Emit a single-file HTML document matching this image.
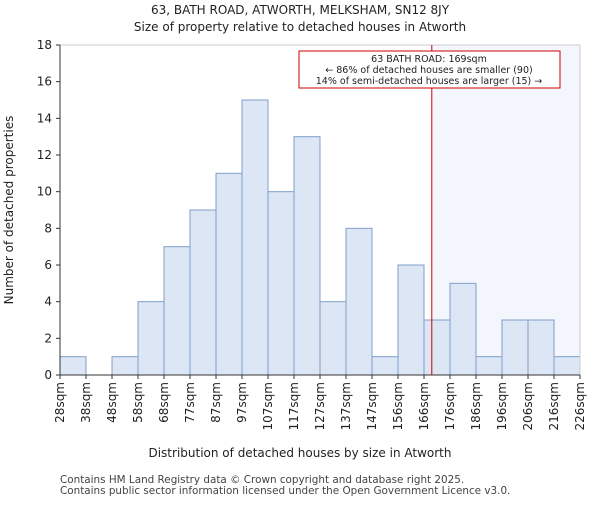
<!DOCTYPE html>
<html><head><meta charset="utf-8"><style>body{margin:0;background:#fff}svg{font-family:"DejaVu Sans","Liberation Sans",sans-serif}</style></head>
<body>
<svg id="c" width="600" height="500">
<text x="300" y="14" text-anchor="middle" font-size="12" fill="#222">63, BATH ROAD, ATWORTH, MELKSHAM, SN12 8JY</text>
<text x="300" y="31" text-anchor="middle" font-size="12" fill="#222">Size of property relative to detached houses in Atworth</text>
<g id="plot"></g>
<text x="300" y="457" text-anchor="middle" font-size="12" fill="#222">Distribution of detached houses by size in Atworth</text>
<text transform="translate(13,210) rotate(-90)" text-anchor="middle" font-size="12" fill="#222">Number of detached properties</text>
<text x="60" y="483" font-size="10.4" fill="#444">Contains HM Land Registry data © Crown copyright and database right 2025.</text>
<text x="60" y="494" font-size="10.4" fill="#444">Contains public sector information licensed under the Open Government Licence v3.0.</text>
</svg>
<script>
const tickLabels=["28sqm","38sqm","48sqm","58sqm","68sqm","77sqm","87sqm","97sqm","107sqm","117sqm","127sqm","137sqm","147sqm","156sqm","166sqm","176sqm","186sqm","196sqm","206sqm","216sqm","226sqm"];
const counts=[1,0,1,4,7,9,11,15,10,13,4,8,1,6,3,5,1,3,3,1];
const yTicks=[0,2,4,6,8,10,12,14,16,18];
const markerBin=14.3;
const X0=60,X1=580,Y0=375,Y1=45,YMAX=18;
const ns="http://www.w3.org/2000/svg";
const g=document.getElementById('plot');
const bw=(X1-X0)/counts.length;
const x=i=>X0+i*bw;
const y=v=>Y0-(v/YMAX)*(Y0-Y1);
function el(t,a){const e=document.createElementNS(ns,t);for(const k in a)e.setAttribute(k,a[k]);g.appendChild(e);return e;}
const mx=x(markerBin);
let s=el('rect',{x:mx,y:Y1,width:X1-mx,height:Y0-Y1,fill:"#f4f6fd"});


counts.forEach((v,i)=>{const r=el('rect',{x:x(i),y:y(v),width:bw,height:Y0-y(v),fill:"#dce6f4",stroke:"#7f9fcc","stroke-width":1});

});
let f=el('rect',{x:X0,y:Y1,width:X1-X0,height:Y0-Y1,fill:"none",stroke:"#ccc"});


el('line',{x1:X0,y1:Y0,x2:X1,y2:Y0,stroke:"#333"});
el('line',{x1:X0,y1:Y0,x2:X0,y2:Y1,stroke:"#333"});
yTicks.forEach(t=>{el('line',{x1:X0-4,x2:X0,y1:y(t),y2:y(t),stroke:"#333"});
const tx=el('text',{x:X0-8,y:y(t)+4,"text-anchor":"end","font-size":"12",fill:"#222"});tx.textContent=t;

});
tickLabels.forEach((l,i)=>{el('line',{x1:x(i),x2:x(i),y1:Y0,y2:Y0+4,stroke:"#333"});
const tx=el('text',{transform:`translate(${x(i)+4},${Y0+7}) rotate(-90)`,"text-anchor":"end","font-size":"12",fill:"#222"});tx.textContent=l;

});
const ml=el('line',{x1:mx,x2:mx,y1:Y1,y2:Y0,stroke:"#cc0000","stroke-width":1});


const bx=el('rect',{x:299,y:51,width:261,height:37,fill:"#fff",stroke:"#cc0000"});


["63 BATH ROAD: 169sqm","← 86% of detached houses are smaller (90)","14% of semi-detached houses are larger (15) →"].forEach((t,i)=>{
const tx=el('text',{x:429,y:62+i*11,"text-anchor":"middle","font-size":"9.5",fill:"#222"});tx.textContent=t;

});
</script>
</body></html>
